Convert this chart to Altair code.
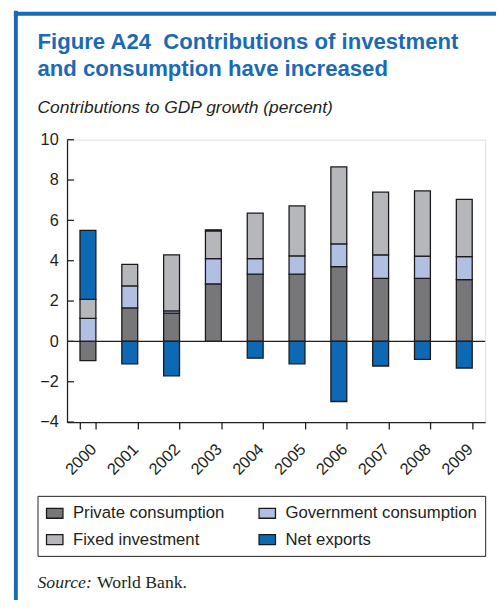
import altair as alt
import pandas as pd

years = ["2000", "2001", "2002", "2003", "2004", "2005", "2006", "2007", "2008", "2009"]
series = ["Private consumption", "Government consumption", "Fixed investment", "Net exports"]
private = [-0.95, 1.66, 1.40, 2.85, 3.33, 3.33, 3.71, 3.12, 3.12, 3.06]
government = [1.14, 1.09, 0.11, 1.25, 0.77, 0.91, 1.12, 1.17, 1.11, 1.14]
fixed = [0.94, 1.07, 2.78, 1.38, 2.26, 2.48, 3.82, 3.11, 3.23, 2.84]
net_exports = [3.42, -1.11, -1.71, 0.05, -0.83, -1.11, -2.98, -1.22, -0.89, -1.32]
colors = ["#77777a", "#b1bfe3", "#b6b7ba", "#0d69b3"]
y_ticks = [-4, -2, 0, 2, 4, 6, 8, 10]

title_lines = ["Figure A24\u00a0\u00a0Contributions of investment", "and consumption have increased"]
subtitle = "Contributions to GDP growth (percent)"
source_label = "Source:"
source_text = "World Bank."

W, H = 425, 287
INK = "#231f20"
BLUE = "#1a6ab4"

rows = []
for vals, name in zip([private, government, fixed, net_exports], series):
    for y, v in zip(years, vals):
        rows.append({"year": y, "series": name, "value": v, "ord": series.index(name)})
df = pd.DataFrame(rows)

y_scale = alt.Scale(domain=[-4, 10], nice=False, zero=False)
y_axis = alt.Axis(title=None, values=y_ticks, ticks=False, tickSize=0, grid=False,
                  labelPadding=9, labelFontSize=16.5, labelColor=INK,
                  domainColor=INK, domainWidth=1.3)

bars = alt.Chart(df).mark_bar(stroke="#1a1a1a", strokeWidth=1.3).encode(
    x=alt.X("year:N", sort=years,
            scale=alt.Scale(paddingInner=0.62, paddingOuter=0.31),
            axis=alt.Axis(title=None, labelAngle=315, tickBand="extent", tickSize=7,
                          tickColor=INK, tickWidth=1.3, domainColor=INK, domainWidth=1.3,
                          labelFontSize=16.5, labelColor=INK, labelPadding=12)),
    y=alt.Y("value:Q", stack="zero", scale=y_scale, axis=y_axis),
    color=alt.Color("series:N", sort=series,
                    scale=alt.Scale(domain=series, range=colors),
                    legend=alt.Legend(title=None, orient="none", legendX=-30, legendY=362,
                                      direction="horizontal", columns=2,
                                      symbolType="M-1,-0.6H1V0.6H-1Z", symbolSize=279,
                                      symbolStrokeColor="#1a1a1a", symbolStrokeWidth=1.3,
                                      symbolOpacity=1,
                                      labelFontSize=17, labelColor=INK, labelLimit=320,
                                      labelOffset=9, strokeColor=INK, padding=8,
                                      rowPadding=9, columnPadding=31)),
    order=alt.Order("ord:Q", sort="ascending"),
)

tick_df = pd.DataFrame({"value": y_ticks})
yticks = alt.Chart(tick_df).mark_rule(color=INK, strokeWidth=1.3).encode(
    y=alt.Y("value:Q", scale=y_scale, axis=y_axis), x=alt.value(0), x2=alt.value(7))

zero = alt.Chart(pd.DataFrame({"value": [0]})).mark_rule(color=INK, strokeWidth=1.3).encode(
    y=alt.Y("value:Q", scale=y_scale, axis=y_axis), x=alt.value(0), x2=alt.value(W))

one = pd.DataFrame({"a": [0]})
frame_left = alt.Chart(one).mark_rule(color=BLUE, strokeWidth=4).encode(
    x=alt.value(-52), y=alt.value(-131), y2=alt.value(H + 200))
frame_top = alt.Chart(one).mark_rule(color=BLUE, strokeWidth=4).encode(
    x=alt.value(-54), x2=alt.value(W + 20), y=alt.value(-128))

title = alt.Chart(one).mark_text(text=title_lines, font="Liberation Sans", fontSize=22.5,
                                 fontWeight="bold", color=BLUE, align="left",
                                 baseline="alphabetic", lineHeight=27.3).encode(
    x=alt.value(-30), y=alt.value(-92.5))
sub = alt.Chart(one).mark_text(text=subtitle, font="Liberation Sans", fontSize=17.7,
                               fontStyle="italic", color=INK, align="left",
                               baseline="alphabetic").encode(
    x=alt.value(-30), y=alt.value(-27))
src1 = alt.Chart(one).mark_text(text=source_label, font="Liberation Serif", fontSize=18,
                                fontStyle="italic", color=INK, align="left",
                                baseline="alphabetic").encode(
    x=alt.value(-30), y=alt.value(456))
src2 = alt.Chart(one).mark_text(text=source_text, font="Liberation Serif", fontSize=18,
                                color=INK, align="left", baseline="alphabetic").encode(
    x=alt.value(30.5), y=alt.value(456))

chart = alt.layer(bars, zero, yticks, frame_left, frame_top, title, sub, src1, src2).properties(
    width=W, height=H,
    padding={"left": 60, "top": 129, "right": 11, "bottom": 176},
    autosize=alt.AutoSizeParams(type="none"),
).configure_view(stroke=None).configure(font="Liberation Sans", background="white")

chart.save("out.html", embed_options={"renderer": "svg", "actions": False})
